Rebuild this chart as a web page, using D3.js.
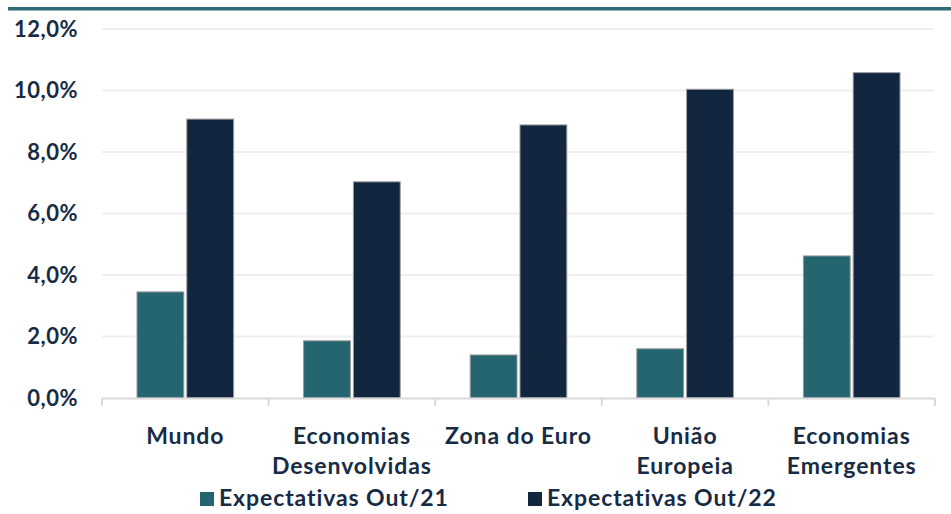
<!DOCTYPE html>
<html>
<head>
<meta charset="utf-8">
<script src="https://cdn.jsdelivr.net/npm/d3@7"></script>
<style>
  body { margin: 0; background: #fff; }
  text { font-family: Lato, "Open Sans", sans-serif; font-weight: bold; fill: #172b45; }
</style>
</head>
<body>
<svg class="graphic"></svg>
<script>
var categories = [
  ["Mundo"],
  ["Economias", "Desenvolvidas"],
  ["Zona do Euro"],
  ["União", "Europeia"],
  ["Economias", "Emergentes"]
];
var series = ["Expectativas Out/21", "Expectativas Out/22"];
var out21 = [3.45, 1.86, 1.40, 1.60, 4.62];
var out22 = [9.07, 7.03, 8.88, 10.04, 10.58];
var yTicks = [0, 2, 4, 6, 8, 10, 12];
var colours = ["#24656f", "#12263f"];

var width = 951, height = 514;
var margin = {top: 29, right: 16, bottom: 116, left: 102};

var svg = d3.select(".graphic")
    .attr("width", width)
    .attr("height", height);

// teal rule under the (cropped) title
svg.append("rect")
    .attr("x", 8)
    .attr("y", 7)
    .attr("width", width - 8)
    .attr("height", 3.5)
    .attr("fill", "#2e6b75");

var y = d3.scaleLinear()
    .domain([0, 12])
    .range([height - margin.bottom, margin.top]);

var x0 = d3.scaleBand()
    .domain(d3.range(categories.length))
    .range([margin.left, width - margin.right]);

var bw = x0.bandwidth();
var x1 = d3.scaleBand()
    .domain(series)
    .range([bw * 0.21, bw * 0.79])
    .paddingInner(0.06);

// gridlines
svg.append("g")
    .selectAll("line")
    .data(yTicks.slice(1))
    .enter()
    .append("line")
    .attr("x1", margin.left)
    .attr("x2", width - margin.right - 1)
    .attr("y1", function(d) { return y(d); })
    .attr("y2", function(d) { return y(d); })
    .attr("stroke", "#efefef")
    .attr("stroke-width", 2);

// y labels
svg.append("g")
    .selectAll("text")
    .data(yTicks)
    .enter()
    .append("text")
    .attr("x", 78)
    .attr("y", function(d) { return y(d) + 7.5; })
    .attr("text-anchor", "end")
    .attr("font-size", 22)
    .attr("letter-spacing", 0.5)
    .text(function(d) { return d.toFixed(1).replace(".", ",") + "%"; });

// bars
var values = [out21, out22];
var group = svg.append("g")
    .selectAll("g")
    .data(categories)
    .enter()
    .append("g")
    .attr("transform", function(d, i) { return "translate(" + x0(i) + ",0)"; });

group.selectAll("rect")
    .data(function(d, i) { return series.map(function(s, j) { return {s: s, j: j, v: values[j][i]}; }); })
    .enter()
    .append("rect")
    .attr("x", function(d) { return x1(d.s); })
    .attr("width", x1.bandwidth())
    .attr("y", function(d) { return y(d.v); })
    .attr("height", function(d) { return y(0) - y(d.v); })
    .attr("fill", function(d) { return colours[d.j]; })
    .attr("stroke", "#9a9a9a")
    .attr("stroke-width", 1);

// x axis line and ticks
var axis = svg.append("g");
axis.append("line")
    .attr("x1", margin.left)
    .attr("x2", width - margin.right)
    .attr("y1", y(0) + 0.5)
    .attr("y2", y(0) + 0.5)
    .attr("stroke", "#d9d9d9")
    .attr("stroke-width", 2);
axis.selectAll(".tick")
    .data(d3.range(categories.length + 1))
    .enter()
    .append("line")
    .attr("x1", function(d) { return margin.left + d * bw; })
    .attr("x2", function(d) { return margin.left + d * bw; })
    .attr("y1", y(0))
    .attr("y2", y(0) + 8)
    .attr("stroke", "#d9d9d9")
    .attr("stroke-width", 2);

// category labels
group.append("text")
    .attr("text-anchor", "middle")
    .attr("font-size", 23)
    .attr("letter-spacing", 0.9)
    .selectAll("tspan")
    .data(function(d) { return d; })
    .enter()
    .append("tspan")
    .attr("x", bw / 2)
    .attr("y", function(d, i) { return 444 + i * 30; })
    .text(function(d) { return d; });

// legend
var legendX = [200, 528];
var legend = svg.append("g")
    .selectAll("g")
    .data(series)
    .enter()
    .append("g")
    .attr("transform", function(d, i) { return "translate(" + legendX[i] + ",0)"; });
legend.append("rect")
    .attr("x", 0)
    .attr("y", 492)
    .attr("width", 14)
    .attr("height", 14)
    .attr("fill", function(d, i) { return colours[i]; });
legend.append("text")
    .attr("x", 19)
    .attr("y", 506)
    .attr("font-size", 23)
    .attr("letter-spacing", 0.9)
    .text(function(d) { return d; });
</script>
</body>
</html>
